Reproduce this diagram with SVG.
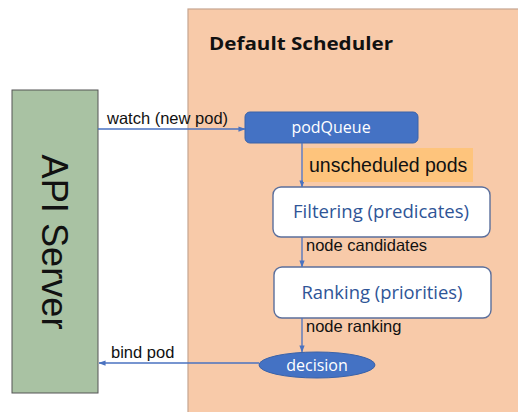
<svg xmlns="http://www.w3.org/2000/svg" width="518" height="412" viewBox="0 0 518 412">
<defs>
<style>
.lbl{font-family:"Liberation Sans",Arial,sans-serif;font-size:16.5px;fill:#111}
.box{fill:#ffffff;stroke:#5b6f9c;stroke-width:1.4}
.boxtxt{font-family:"Open Sans","Liberation Sans",sans-serif;font-size:18px;fill:#2f5597;text-anchor:middle}
.wtxt{font-family:"Open Sans","Liberation Sans",sans-serif;font-size:16px;fill:#ffffff;text-anchor:middle}
.conn{stroke:#4a72c0;stroke-width:1.3;fill:none}
</style>
<marker id="ah" viewBox="0 0 8 8" refX="7.5" refY="4" markerWidth="7" markerHeight="7" orient="auto" markerUnits="userSpaceOnUse">
<path d="M0,1 L8,4 L0,7 Z" fill="#4a72c0"/>
</marker>
</defs>
<rect width="518" height="412" fill="#ffffff"/>
<g id="scheduler">
<rect x="188" y="9" width="332" height="406" fill="#f8caa9" stroke="#c6a590" stroke-width="1.2"/>
<text x="209" y="50" font-family="'Open Sans','Liberation Sans',sans-serif" font-weight="bold" font-size="18" fill="#111" textLength="184" lengthAdjust="spacingAndGlyphs">Default Scheduler</text>
</g>
<g id="api-server">
<rect x="12" y="90" width="86" height="303" fill="#a9c2a3" stroke="#555" stroke-width="1"/>
<text transform="translate(42,242) rotate(90)" font-family="'Liberation Sans',Arial,sans-serif" font-size="37" fill="#111" text-anchor="middle" textLength="175" lengthAdjust="spacingAndGlyphs">API Server</text>
</g>
<g id="podQueue">
<rect x="245" y="112" width="173" height="31" rx="5" fill="#4472c4" stroke="#3a62a8" stroke-width="1"/>
<text class="wtxt" x="331" y="133">podQueue</text>
</g>
<g id="filtering">
<rect class="box" x="273" y="187" width="217" height="50" rx="8"/>
<text class="boxtxt" x="381" y="218" textLength="176" lengthAdjust="spacingAndGlyphs">Filtering (predicates)</text>
</g>
<g id="ranking">
<rect class="box" x="274" y="267" width="217" height="51" rx="8"/>
<text class="boxtxt" x="382" y="299" textLength="161" lengthAdjust="spacingAndGlyphs">Ranking (priorities)</text>
</g>
<g id="decision">
<ellipse cx="317" cy="365" rx="58" ry="13" fill="#4472c4" stroke="#3a62a8" stroke-width="1"/>
<text class="wtxt" x="317" y="371">decision</text>
</g>
<g id="connectors">
<line class="conn" x1="98" y1="129" x2="245" y2="129" marker-end="url(#ah)"/>
<text class="lbl" x="107" y="124">watch (new pod)</text>
<line class="conn" x1="302" y1="143" x2="302" y2="187" marker-end="url(#ah)"/>
<rect x="303" y="148" width="170" height="34" fill="#fec47c"/>
<text x="309" y="172" font-family="'Liberation Sans',Arial,sans-serif" font-size="19.5" fill="#111">unscheduled pods</text>
<line class="conn" x1="302" y1="237" x2="302" y2="267" marker-end="url(#ah)"/>
<text class="lbl" x="306" y="251">node candidates</text>
<line class="conn" x1="302" y1="318" x2="302" y2="352" marker-end="url(#ah)"/>
<text class="lbl" x="306" y="332">node ranking</text>
<line class="conn" x1="259" y1="363" x2="99" y2="363" marker-end="url(#ah)"/>
<text class="lbl" x="111" y="358">bind pod</text>
</g>
</svg>
